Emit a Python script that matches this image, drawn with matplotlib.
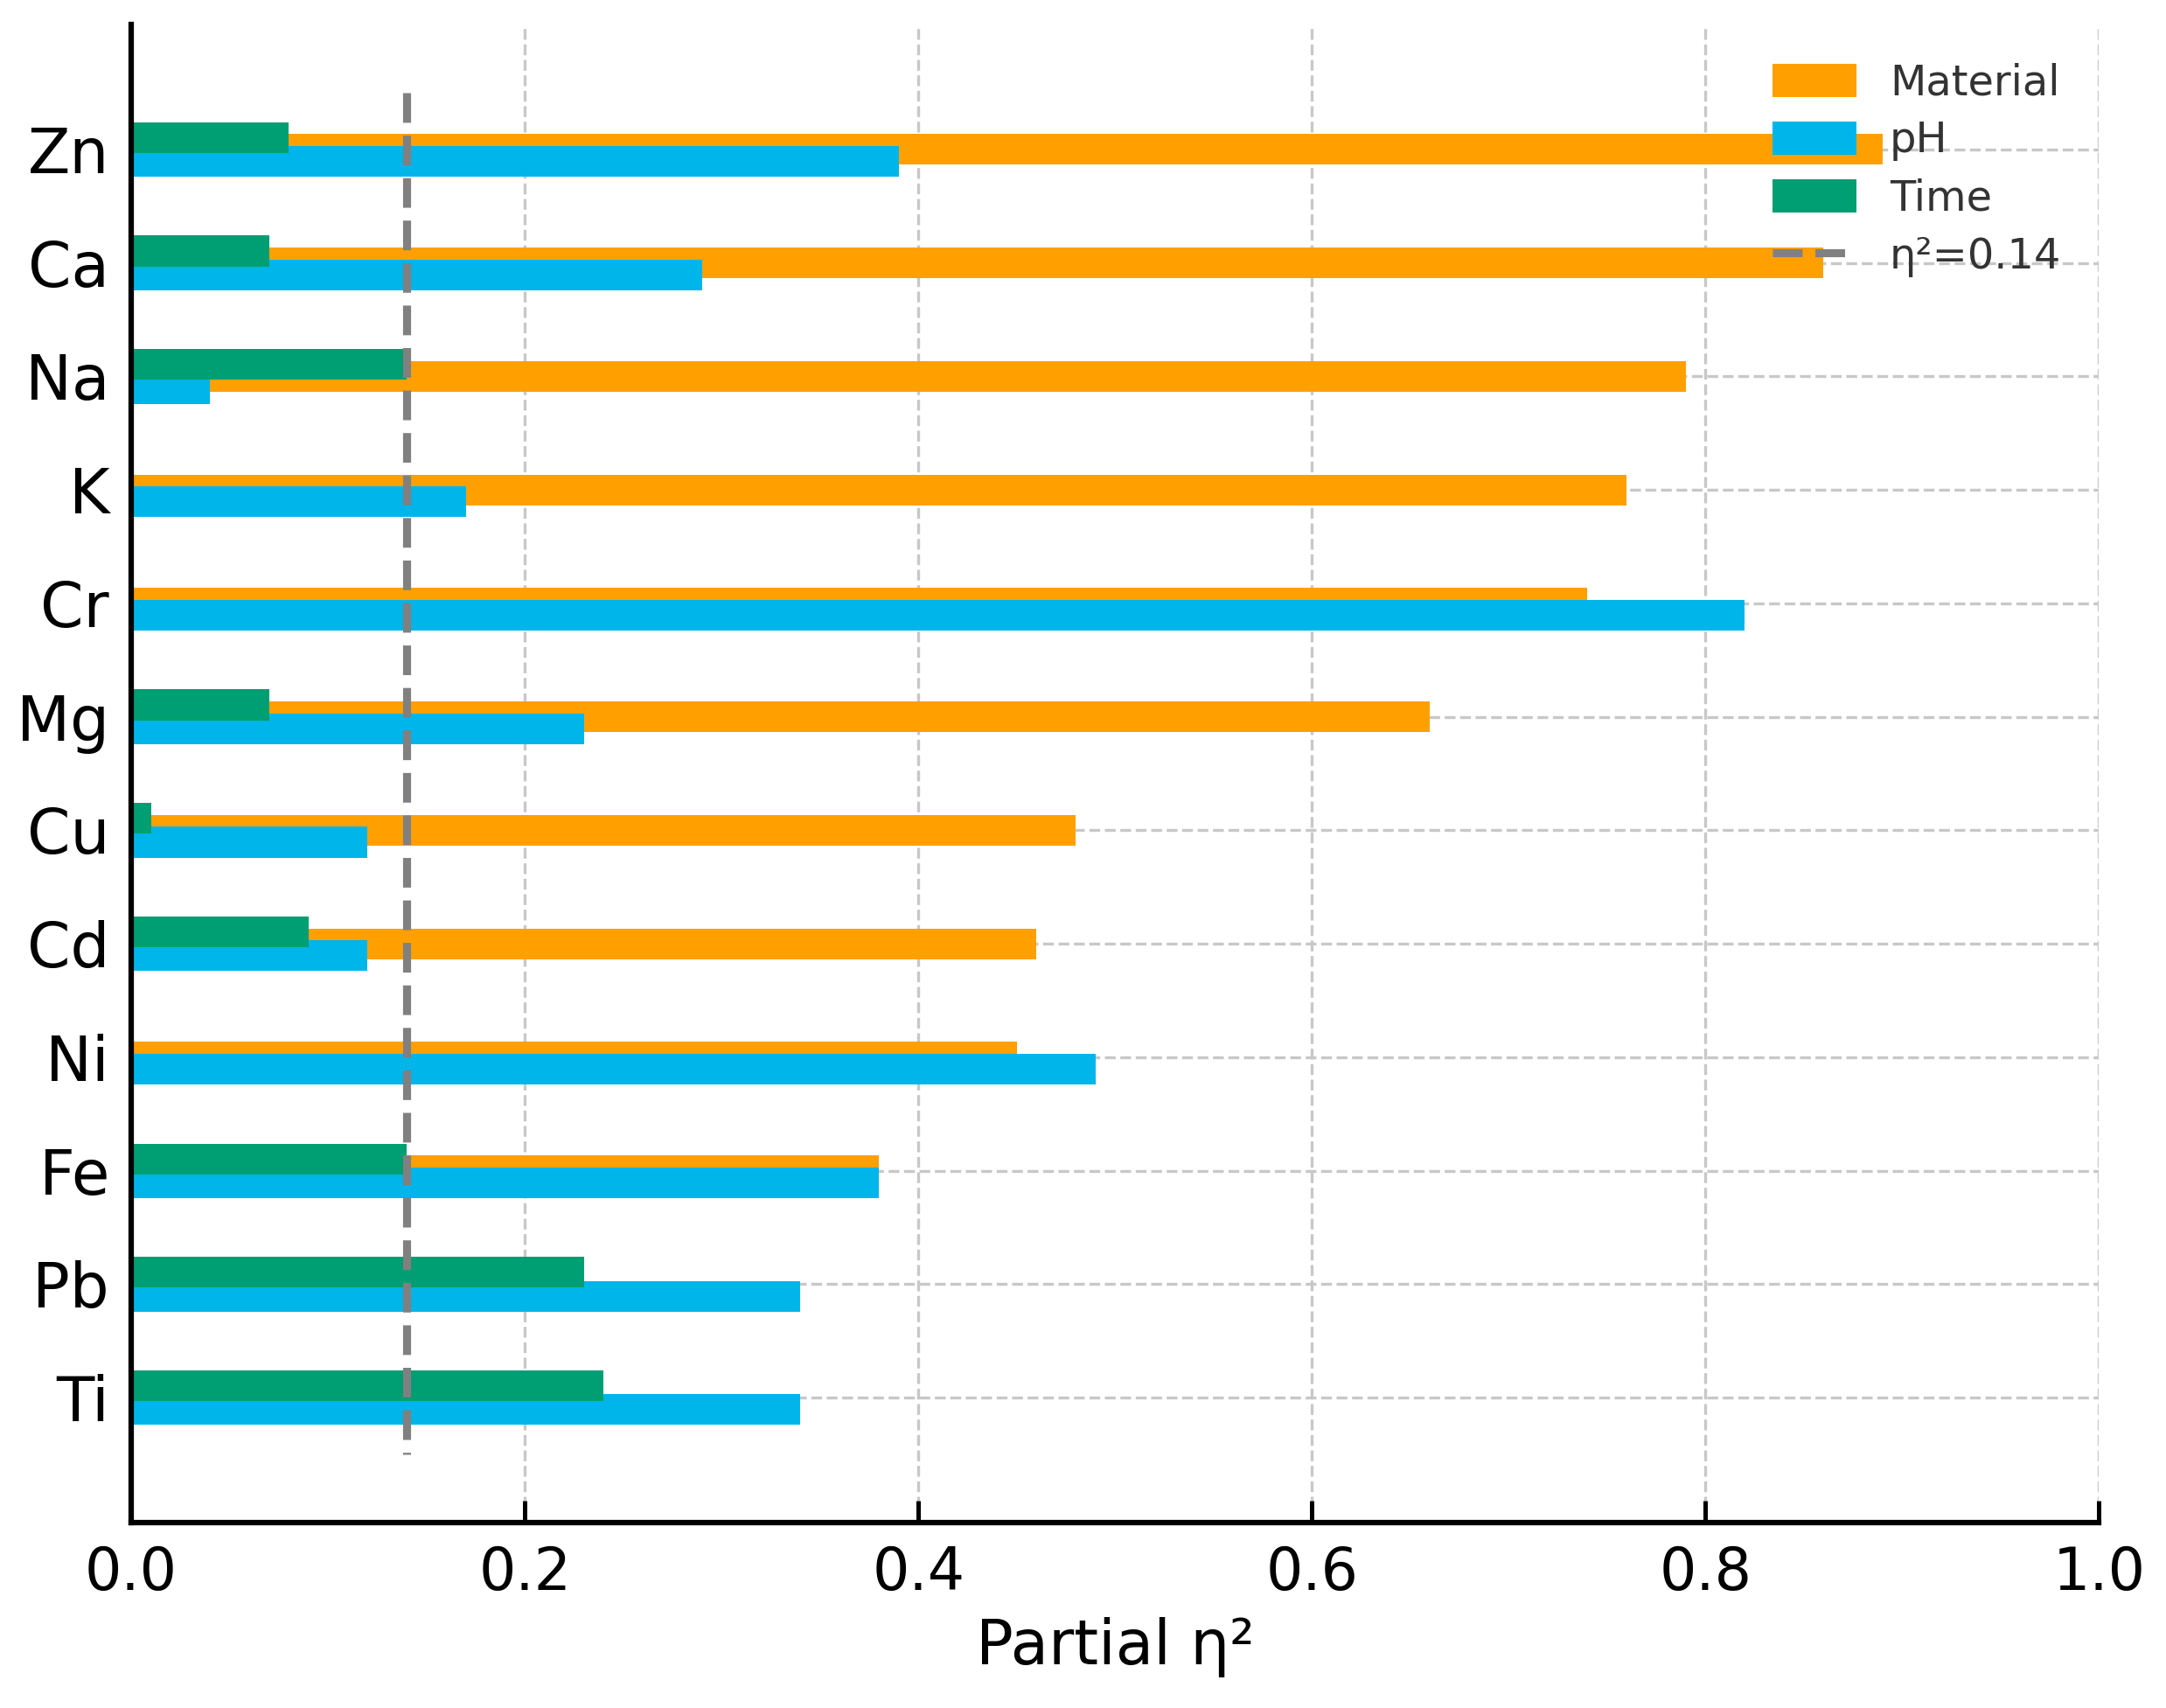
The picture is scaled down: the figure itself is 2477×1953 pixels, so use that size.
import matplotlib.pyplot as plt
import numpy as np

elements = ['Zn', 'Ca', 'Na', 'K', 'Cr', 'Mg', 'Cu', 'Cd', 'Ni', 'Fe', 'Pb', 'Ti']
material = [0.89, 0.86, 0.79, 0.76, 0.74, 0.66, 0.48, 0.46, 0.45, 0.38, 0.0, 0.0]
ph = [0.39, 0.29, 0.04, 0.17, 0.82, 0.23, 0.12, 0.12, 0.49, 0.38, 0.34, 0.34]
time = [0.08, 0.07, 0.14, 0.0, 0.0, 0.07, 0.01, 0.09, 0.0, 0.14, 0.23, 0.24]
threshold = 0.14

c_mat = '#FFA000'
c_ph = '#00B5EA'
c_time = '#009E73'

fig = plt.figure(figsize=(2477 / 300, 1953 / 300), dpi=300)
ax = fig.add_axes([0.0606, 0.1086, 0.9085, 0.877])

y = np.arange(len(elements))
h = 0.27
off = 0.105

b1 = ax.barh(y, material, height=h, color=c_mat, label='Material', zorder=2)
b2 = ax.barh(y + off, ph, height=h, color=c_ph, label='pH', zorder=2)
b3 = ax.barh(y - off, time, height=h, color=c_time, label='Time', zorder=2)
vl = ax.vlines(threshold, -0.5, len(elements) - 0.5, colors='gray', linestyles='--',
               linewidth=2.2, label='\u03b7\u00b2=0.14', zorder=3)

ax.set_xlim(0, 1.0)
ax.set_ylim(len(elements) + 0.1, -1.1)
ax.set_yticks(y)
ax.set_yticklabels(elements, fontsize=17)
ax.set_xticks([0, 0.2, 0.4, 0.6, 0.8, 1.0])
ax.set_xticklabels(['0.0', '0.2', '0.4', '0.6', '0.8', '1.0'], fontsize=16)
ax.tick_params(axis='x', direction='in', length=6, width=1.2, pad=6)
ax.tick_params(axis='y', length=0, pad=6)
ax.set_xlabel('Partial \u03b7\u00b2', fontsize=17, labelpad=4)

ax.grid(True, linestyle='--', color='#c8c8c8', linewidth=0.8, zorder=0)
ax.set_axisbelow(True)
for s in ['top', 'right']:
    ax.spines[s].set_visible(False)
ax.spines['left'].set_linewidth(1.5)
ax.spines['bottom'].set_linewidth(1.5)

leg = ax.legend([b1, b2, b3, vl], ['Material', 'pH', 'Time', '\u03b7\u00b2=0.14'],
                loc='upper right', frameon=False, fontsize=11.5, labelspacing=0.4,
                handleheight=0.85, bbox_to_anchor=(1.0, 1.0))
for t in leg.get_texts():
    t.set_color('#333333')

fig.savefig('out.png', dpi=300)
